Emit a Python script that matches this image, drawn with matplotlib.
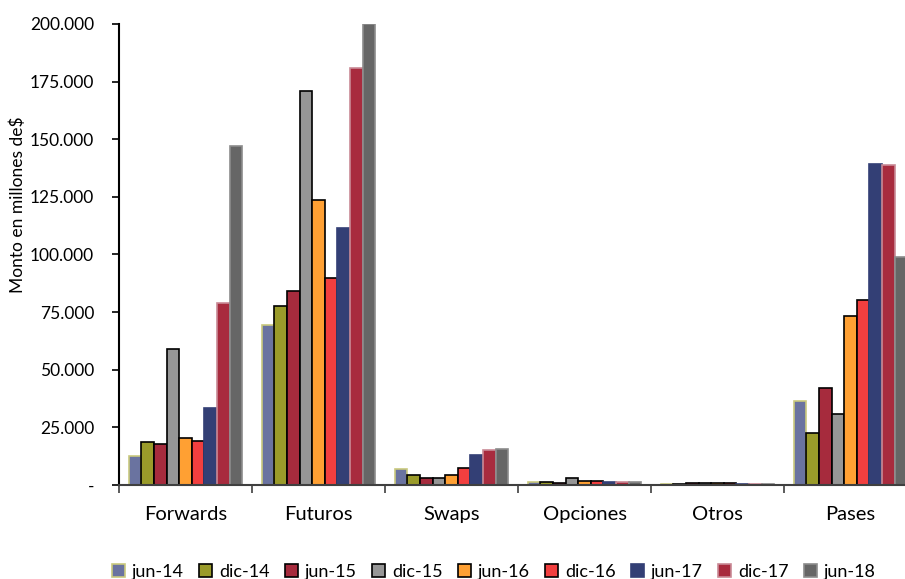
import matplotlib
matplotlib.use("Agg")
import matplotlib.pyplot as plt
import numpy as np

categories = ["Forwards", "Futuros", "Swaps", "Opciones", "Otros", "Pases"]
series_names = ["jun-14", "dic-14", "jun-15", "dic-15", "jun-16", "dic-16", "jun-17", "dic-17", "jun-18"]

jun14 = [12700, 69400, 7000, 1200, 400, 36400]
dic14 = [18500, 77700, 4500, 1200, 600, 22400]
jun15 = [17800, 84200, 3200, 1000, 700, 42200]
dic15 = [58900, 171000, 3200, 3200, 700, 30700]
jun16 = [20500, 123600, 4500, 1600, 700, 73300]
dic16 = [19200, 89900, 7200, 1600, 700, 80300]
jun17 = [33400, 111600, 13000, 1300, 600, 139300]
dic17 = [78800, 181000, 15000, 1300, 600, 138700]
jun18 = [147000, 200000, 15600, 1300, 600, 99000]

values = [jun14, dic14, jun15, dic15, jun16, dic16, jun17, dic17, jun18]
face_colors = ["#6A73A0", "#9A9B2A", "#A62B3D", "#969696", "#FFA033", "#F23F3F", "#333F75", "#A82B3E", "#666666"]
edge_colors = ["#C9C97E", "#000000", "#000000", "#000000", "#000000", "#000000", "#333F75", "#C98A96", "#8C8C8C"]

yticks = [0, 25000, 50000, 75000, 100000, 125000, 150000, 175000, 200000]

plt.rcParams['font.family'] = ['Lato', 'DejaVu Sans']

fig = plt.figure(figsize=(9.05, 5.79), dpi=100)
ax = fig.add_axes([119/905, 94/579, (917-119)/905, 461/579])

n = len(series_names)
w = 0.857 / n
x = np.arange(len(categories)) + 0.5
for j, (name, vals) in enumerate(zip(series_names, values)):
    ax.bar(x + (j - (n - 1) / 2) * w, vals, width=w, color=face_colors[j],
           edgecolor=edge_colors[j], linewidth=1.2, label=name, zorder=2)

ax.set_xlim(0, len(categories))
ax.set_ylim(0, 200000)
ax.set_yticks(yticks)
ax.set_yticklabels(["-" if v == 0 else f"{v:,}".replace(",", ".") for v in yticks], fontsize=12.5)
ax.set_xticks(np.arange(len(categories) + 1))
ax.set_xticklabels([])
ax.set_xticks(x, minor=True)
ax.set_xticklabels(categories, minor=True, fontsize=14.5)
ax.tick_params(axis='x', which='minor', length=0, pad=15)
ax.tick_params(axis='x', which='major', length=6, width=1.2, color="#404040")
ax.tick_params(axis='y', length=5, width=1.2, pad=13)

for s in ["top", "right"]:
    ax.spines[s].set_visible(False)
ax.spines["left"].set_linewidth(1.5)
ax.spines["bottom"].set_linewidth(1.5)
ax.spines["bottom"].set_color("#404040")
fig.text(18/905, 1 - 205/579, "Monto en millones de$", rotation=90, fontsize=12.5,
         ha="center", va="center")

fig.legend(loc="center", bbox_to_anchor=(494/905, 7/579), ncol=9, frameon=False,
           fontsize=13, handlelength=0.7, handleheight=0.7, handletextpad=0.4,
           columnspacing=0.85, borderaxespad=0)

fig.savefig("out.png", dpi=100)
